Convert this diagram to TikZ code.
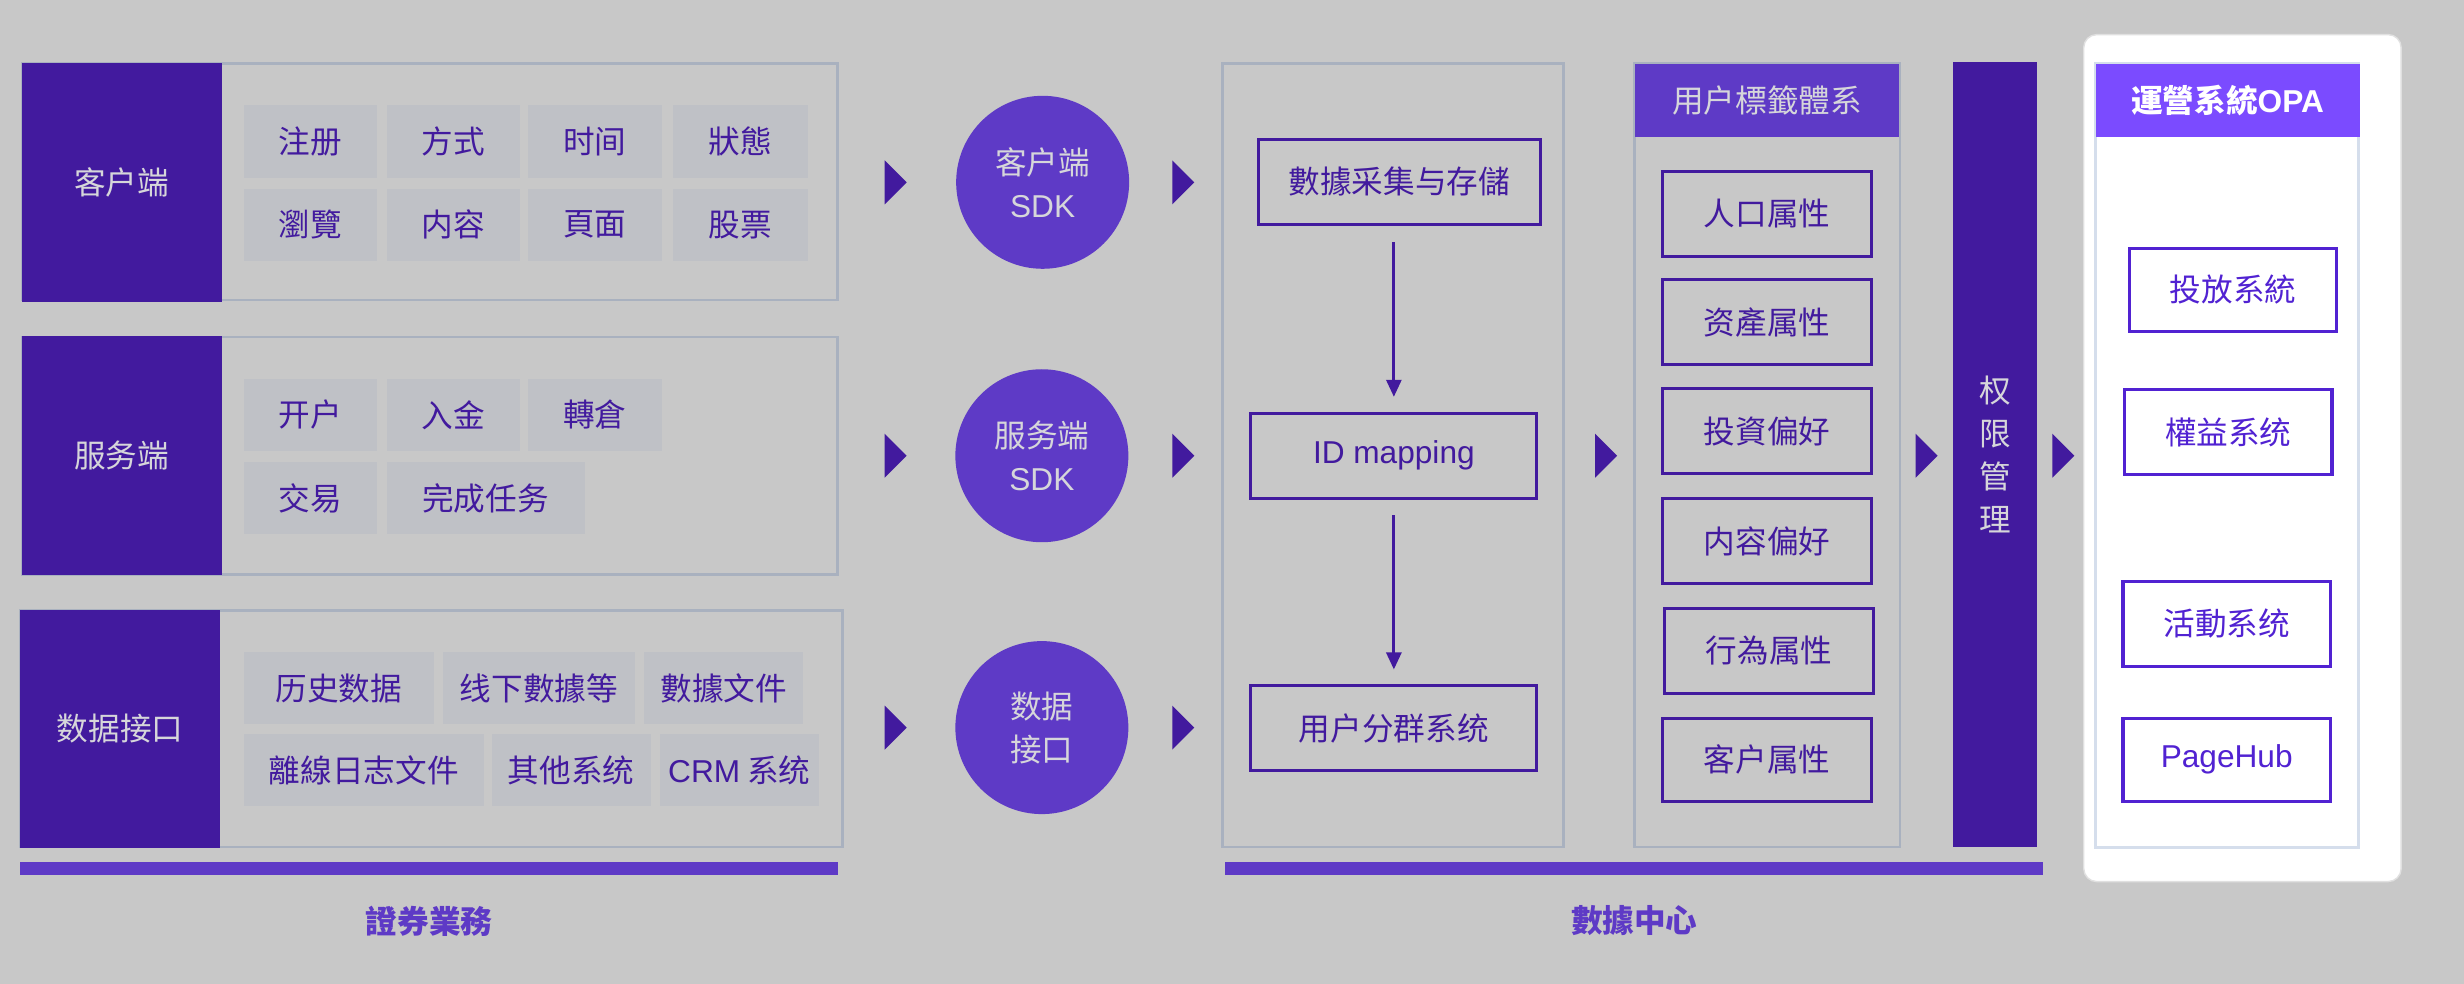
\documentclass[tikz,border=0pt]{standalone}
\usepackage{fontspec}
\setmainfont{Noto Sans CJK SC}
\newfontfamily\lat{Liberation Sans}
\usetikzlibrary{arrows.meta}
\definecolor{bg}{HTML}{C8C8C8}
\definecolor{dk}{HTML}{421A9E}
\definecolor{md}{HTML}{5E3AC6}
\definecolor{cellc}{HTML}{BFC1C6}
\definecolor{grayb}{HTML}{A9B1BF}
\definecolor{lt}{HTML}{D6D6DA}
\definecolor{opah}{HTML}{7B4BFF}
\definecolor{opab}{HTML}{5122D2}
\definecolor{opai}{HTML}{D5DEEC}
\def\pu{0.015714cm}
\newcommand\mybox[7]{\node[#1, inner sep=0pt, outer sep=0pt, minimum width={(#5-#3)*\pu}, minimum height={(#6-#4)*\pu}] (#2) at ({(#3+#5)/2},{(#4+#6)/2}) {#7};}
\newcommand\mytri[2]{\fill[dk] ({#1},{#2-14}) -- ({#1+14},{#2}) -- ({#1},{#2+14}) -- cycle;}
\begin{document}
\begin{tikzpicture}[x=0.015714cm,y=-0.015714cm,
  font=\fontsize{9}{12.2}\selectfont,
  dkbox/.style={fill=dk,text=lt,align=center},
  outerbox/.style={draw=grayb,line width=0.75pt},
  cell/.style={fill=cellc,text=dk},
  pbox/.style={draw=dk,line width=0.85pt,text=dk},
  obox/.style={draw=opab,line width=0.9pt,fill=white,text=opab},
  hdr/.style={fill=md,text=lt},
  ohdr/.style={fill=opah,text=white,font=\fontsize{9}{12}\selectfont\bfseries},
  panel/.style={fill=white,draw=white!88!black,line width=0.4pt,rounded corners=0.13cm},
  circ/.style={circle,fill=md,text=lt,align=center,inner sep=0pt,minimum size=1.73cm},
  arr/.style={draw=dk,line width=0.8pt,-{Triangle[length=0.17cm,width=0.15cm]},shorten <=0.173cm,shorten >=0.165cm},
  lbl/.style={text=md,font=\fontsize{9}{12}\selectfont\bfseries}]
\fill[bg] (0,0) rectangle (1568,626);
\useasboundingbox (0,0) rectangle (1568,626);
% row 1
\mybox{outerbox}{r1}{14}{40.5}{533}{191}{}
\mybox{dkbox}{k1}{14}{40}{141}{192}{客户端}
\mybox{cell}{c11}{155}{67}{240}{113}{注册}
\mybox{cell}{c12}{246}{67}{331}{113}{方式}
\mybox{cell}{c13}{336}{67}{421}{113}{时间}
\mybox{cell}{c14}{428}{67}{514}{113}{狀態}
\mybox{cell}{c15}{155}{120}{240}{166}{瀏覽}
\mybox{cell}{c16}{246}{120}{331}{166}{内容}
\mybox{cell}{c17}{336}{120}{421}{166}{頁面}
\mybox{cell}{c18}{428}{120}{514}{166}{股票}
% row 2
\mybox{outerbox}{r2}{14}{214.5}{533}{365.5}{}
\mybox{dkbox}{k2}{14}{214}{141}{366}{服务端}
\mybox{cell}{c21}{155}{241}{240}{287}{开户}
\mybox{cell}{c22}{246}{241}{331}{287}{入金}
\mybox{cell}{c23}{336}{241}{421}{287}{轉倉}
\mybox{cell}{c24}{155}{294}{240}{340}{交易}
\mybox{cell}{c25}{246}{294}{372}{340}{完成任务}
% row 3
\mybox{outerbox}{r3}{13}{388.5}{536}{539}{}
\mybox{dkbox}{k3}{13}{388}{140}{539.5}{数据接口}
\mybox{cell}{c31}{155}{415}{276}{461}{历史数据}
\mybox{cell}{c32}{282}{415}{404}{461}{线下數據等}
\mybox{cell}{c33}{410}{415}{511}{461}{數據文件}
\mybox{cell}{c34}{155}{467}{308}{513}{離線日志文件}
\mybox{cell}{c35}{313}{467}{414}{513}{其他系统}
\mybox{cell}{c36}{420}{467}{521}{513}{{\lat CRM} 系统}
\mybox{fill=md}{bar1}{12.5}{548.5}{533}{556.5}{}
\node[lbl] (l1) at (273,586) {證券業務};
% chevrons
\mytri{563}{116}
\mytri{563}{290}
\mytri{563}{463}
\mytri{746}{116}
\mytri{746}{290}
\mytri{746}{463}
\mytri{1015}{290}
\mytri{1219}{290}
\mytri{1306}{290}
% circles
\node[circ] (s1) at (663.5,116) {客户端\\{\lat SDK}};
\node[circ] (s2) at (663,290) {服务端\\{\lat SDK}};
\node[circ] (s3) at (663,463) {数据\\接口};
% data center
\mybox{outerbox}{dc}{778}{40.5}{995}{539}{}
\mybox{pbox}{b1}{801}{88.5}{980}{143}{數據采集与存儲}
\mybox{pbox}{b2}{796}{263}{978}{317}{{\lat ID mapping}}
\mybox{pbox}{b3}{796}{436.5}{978}{490.5}{用户分群系统}
\draw[arr] (b1.south -| b2.north) -- (b2.north);
\draw[arr] (b2.south) -- (b3.north);
% tag system
\mybox{outerbox}{tg}{1040}{40.5}{1209}{539}{}
\mybox{hdr}{tgh}{1040.4}{40.5}{1208.6}{87}{用户標籤體系}
\mybox{pbox}{t1}{1058}{109}{1191}{163}{人口属性}
\mybox{pbox}{t2}{1058}{178}{1191}{232}{资產属性}
\mybox{pbox}{t3}{1058}{247.5}{1191}{301.5}{投資偏好}
\mybox{pbox}{t4}{1058}{317.5}{1191}{371}{内容偏好}
\mybox{pbox}{t5}{1059.5}{387}{1192}{441}{行為属性}
\mybox{pbox}{t6}{1058}{457}{1191}{510}{客户属性}
% permission bar
\mybox{dkbox}{perm}{1243}{39.5}{1296}{539}{权\\限\\管\\理}
\mybox{fill=md}{bar2}{779.5}{548.5}{1300}{556.5}{}
\node[lbl] (l2) at (1040,586) {數據中心};
% OPA panel
\mybox{panel}{pn}{1326}{22}{1528}{561}{}
\mybox{draw=opai,line width=0.75pt}{oi}{1333.5}{40.5}{1501}{539.5}{}
\mybox{ohdr}{oh}{1333.5}{40.5}{1501.5}{87}{運營系統{\lat\bfseries OPA}}
\mybox{obox}{o1}{1355}{158}{1487}{211}{投放系統}
\mybox{obox}{o2}{1352}{248}{1484}{302}{權益系统}
\mybox{obox}{o3}{1351}{370}{1483}{424}{活動系统}
\mybox{obox}{o4}{1351}{457}{1483}{510}{{\lat PageHub}}
\end{tikzpicture}
\end{document}
